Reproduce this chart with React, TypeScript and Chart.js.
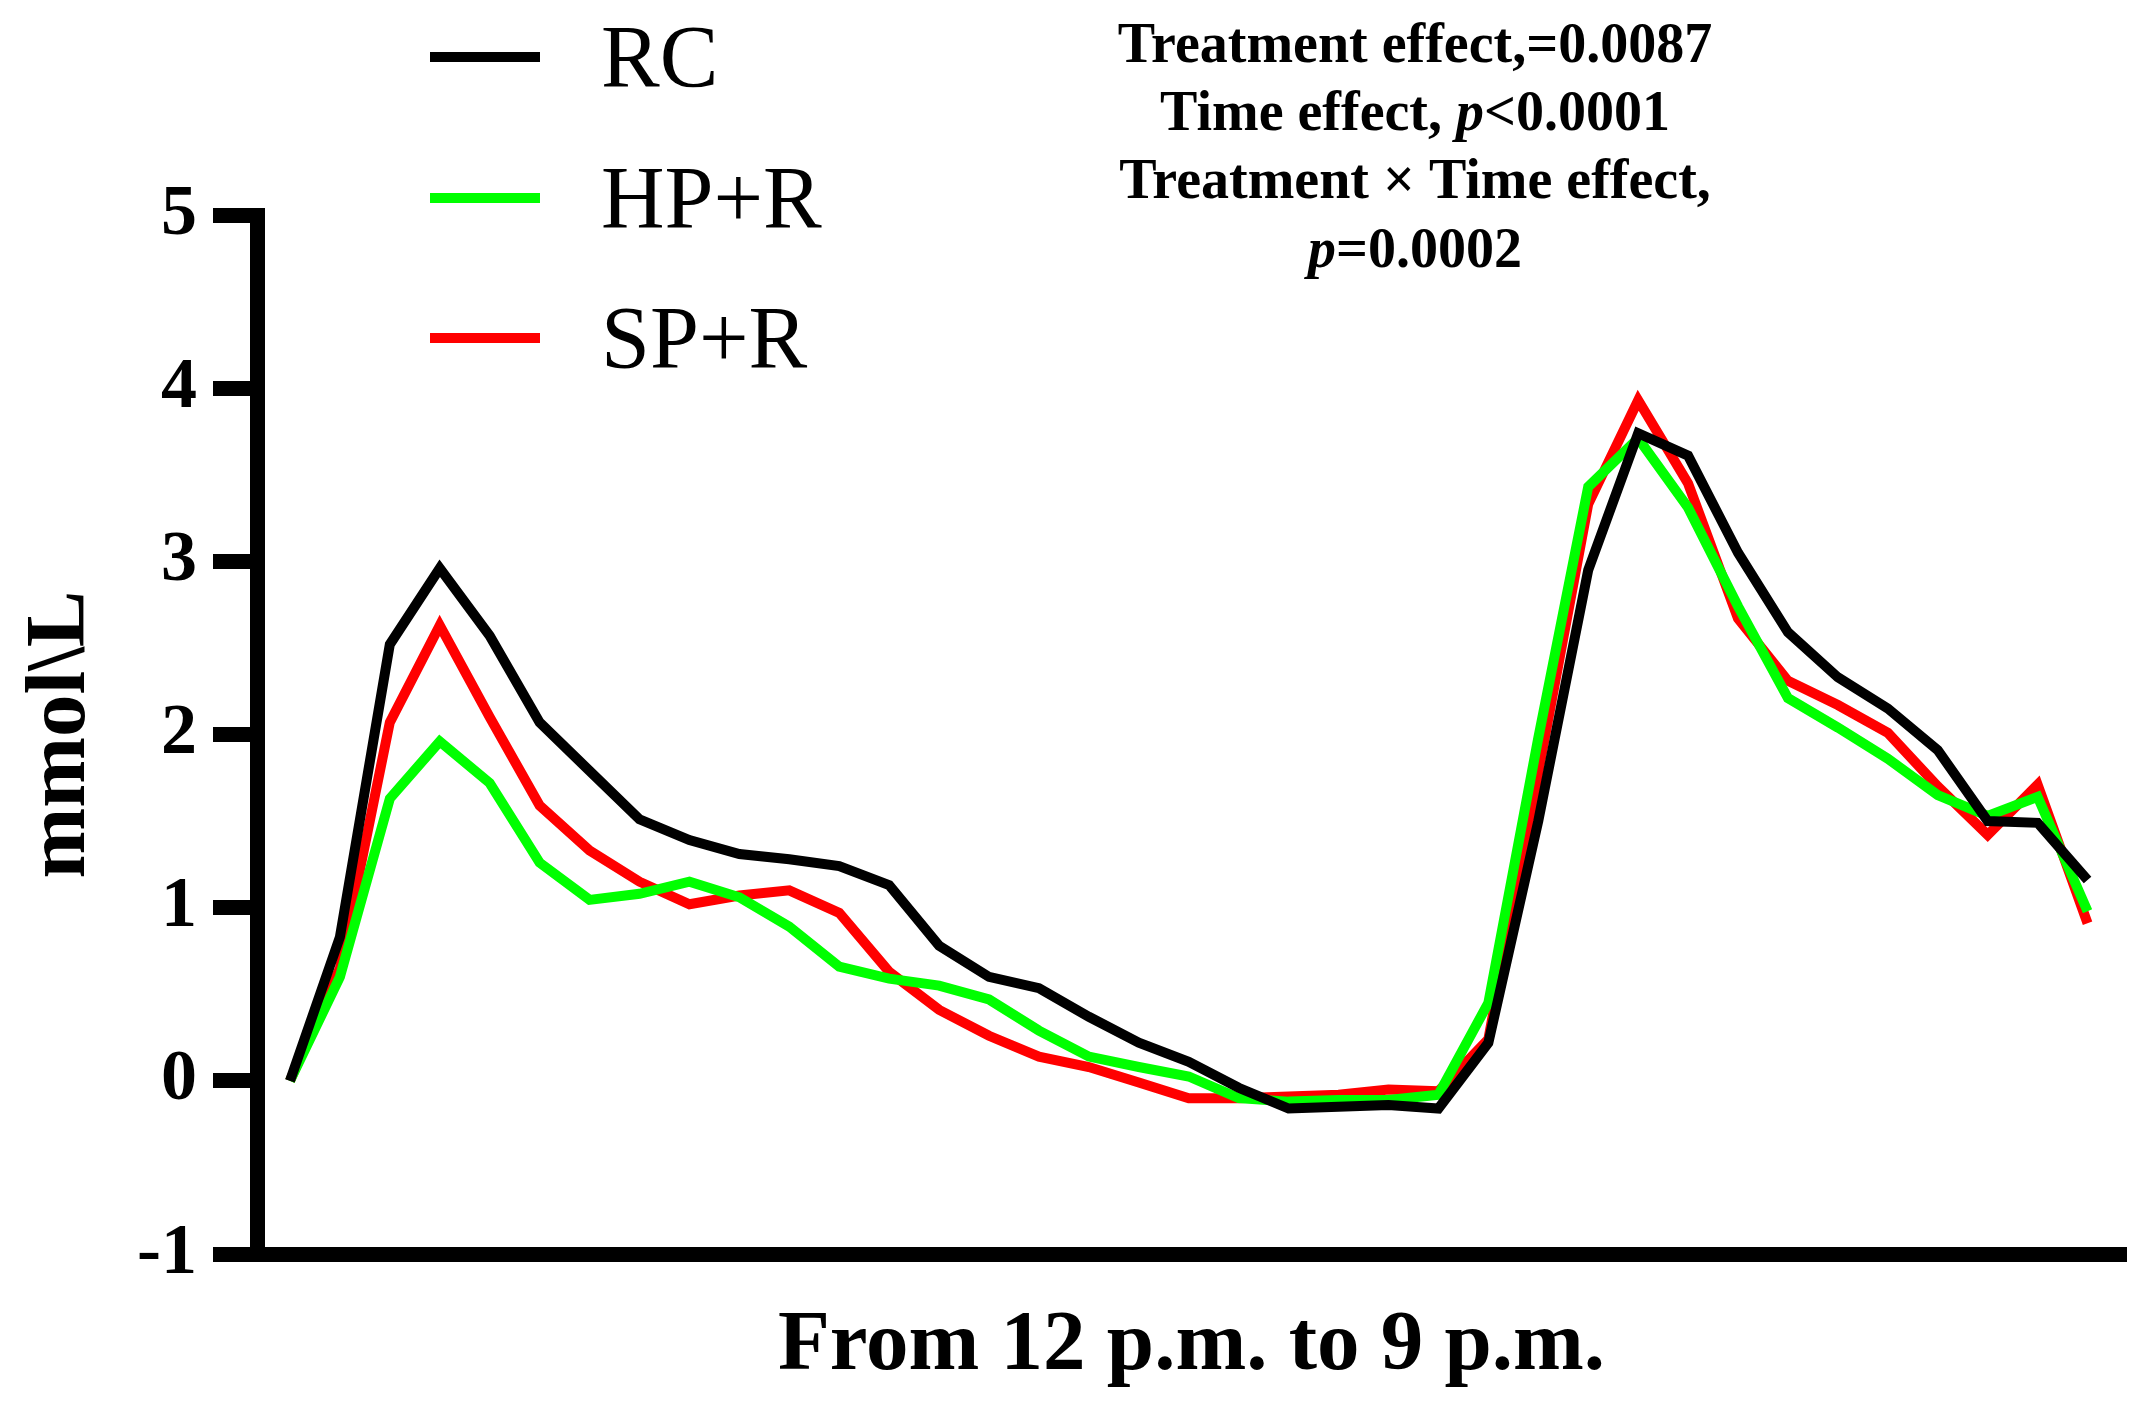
import { useEffect, useRef } from "react";
import { Chart, registerables } from "chart.js";

Chart.register(...registerables);

// sampling times, every 15 min from 12 p.m. to 9 p.m.
const times = [
  "12:00", "12:15", "12:30", "12:45", "13:00", "13:15", "13:30", "13:45",
  "14:00", "14:15", "14:30", "14:45", "15:00", "15:15", "15:30", "15:45",
  "16:00", "16:15", "16:30", "16:45", "17:00", "17:15", "17:30", "17:45",
  "18:00", "18:15", "18:30", "18:45", "19:00", "19:15", "19:30", "19:45",
  "20:00", "20:15", "20:30", "20:45", "21:00",
];

const rc = [
  0, 0.83, 2.52, 2.96, 2.57, 2.07, 1.79, 1.51, 1.39, 1.31, 1.28, 1.24, 1.13,
  0.78, 0.6, 0.535, 0.37, 0.22, 0.11, -0.04, -0.16, -0.15, -0.14, -0.16, 0.22,
  1.5, 2.95, 3.74, 3.61, 3.05, 2.59, 2.33, 2.15, 1.91, 1.5, 1.49, 1.16,
];

const hpR = [
  0, 0.6, 1.63, 1.96, 1.72, 1.26, 1.045, 1.08, 1.15, 1.06, 0.89, 0.66, 0.59,
  0.55, 0.47, 0.29, 0.14, 0.08, 0.025, -0.1, -0.12, -0.11, -0.11, -0.08, 0.45,
  1.98, 3.43, 3.71, 3.31, 2.74, 2.21, 2.04, 1.86, 1.65, 1.53, 1.64, 0.98,
];

const spR = [
  0, 0.65, 2.07, 2.63, 2.1, 1.59, 1.33, 1.15, 1.02, 1.07, 1.1, 0.97, 0.63,
  0.41, 0.26, 0.14, 0.08, -0.01, -0.1, -0.1, -0.09, -0.08, -0.05, -0.06, 0.24,
  1.78, 3.33, 3.93, 3.45, 2.67, 2.31, 2.17, 2.01, 1.7, 1.42, 1.71, 0.91,
];

const seriesNames = ["RC", "HP+R", "SP+R"];
const seriesColors = ["#000000", "#00ff00", "#ff0000"];

const yTicks = [-1, 0, 1, 2, 3, 4, 5];

// stats text, segments marked italic where the original uses italic p
const statLines = [
  [{ text: "Treatment effect,=0.0087", italic: false }],
  [
    { text: "Time effect, ", italic: false },
    { text: "p", italic: true },
    { text: "<0.0001", italic: false },
  ],
  [{ text: "Treatment \u00d7 Time effect,", italic: false }],
  [
    { text: "p", italic: true },
    { text: "=0.0002", italic: false },
  ],
];

const FONT = '"Liberation Serif", "Times New Roman", serif';

const overlayPlugin = {
  id: "overlay",
  afterDraw(chart: any) {
    const { ctx } = chart;
    ctx.save();

    // legend, stacked vertically above the plot
    const legendY = [57, 198, 338];
    chart.data.datasets.forEach((ds: any, i: number) => {
      const y = legendY[i];
      ctx.strokeStyle = ds.borderColor;
      ctx.lineWidth = 10;
      ctx.lineCap = "butt";
      ctx.beginPath();
      ctx.moveTo(430, y);
      ctx.lineTo(540, y);
      ctx.stroke();
      ctx.fillStyle = "#000";
      ctx.font = `88px ${FONT}`;
      ctx.textAlign = "left";
      ctx.textBaseline = "alphabetic";
      ctx.fillText(ds.label, 601, y + 29);
    });

    // stats block, centred lines
    const cx = 1415;
    const baselines = [62, 130, 198, 267];
    statLines.forEach((segs, i) => {
      const fontOf = (s: any) =>
        `${s.italic ? "italic " : ""}bold 56px ${FONT}`;
      let total = 0;
      segs.forEach((s) => {
        ctx.font = fontOf(s);
        total += ctx.measureText(s.text).width;
      });
      let x = cx - total / 2;
      segs.forEach((s) => {
        ctx.font = fontOf(s);
        ctx.textAlign = "left";
        ctx.textBaseline = "alphabetic";
        ctx.fillStyle = "#000";
        ctx.fillText(s.text, x, baselines[i]);
        x += ctx.measureText(s.text).width;
      });
    });

    ctx.restore();
  },
};

const App = () => {
  const canvasRef = useRef<HTMLCanvasElement>(null);

  useEffect(() => {
    if (!canvasRef.current) return;

    const series = [rc, hpR, spR];
    const datasets = series.map((vals, i) => ({
      label: seriesNames[i],
      data: times.map((_, j) => ({ x: j, y: vals[j] })),
      borderColor: seriesColors[i],
      backgroundColor: seriesColors[i],
      borderWidth: 10,
      borderJoinStyle: "miter" as const,
      pointRadius: 0,
      tension: 0,
      fill: false,
    }));

    const chart = new Chart(canvasRef.current, {
      type: "line",
      data: { datasets },
      options: {
        animation: false,
        responsive: true,
        maintainAspectRatio: false,
        layout: { padding: { top: 215, right: 17, bottom: 0, left: 0 } },
        plugins: {
          legend: { display: false },
          tooltip: { enabled: false },
        },
        scales: {
          x: {
            type: "linear",
            min: -0.66,
            max: times.length - 1 + 0.77,
            afterFit: (s: any) => {
              s.height = 172;
            },
            grid: { display: false },
            ticks: { display: false },
            border: { display: true, color: "#000", width: 15 },
            title: {
              display: true,
              text: "From 12 p.m. to 9 p.m.",
              color: "#000",
              font: { family: FONT, size: 85, weight: "bold" },
              padding: { top: 0, bottom: 28 },
            },
          },
          y: {
            min: yTicks[0],
            max: yTicks[yTicks.length - 1],
            afterFit: (s: any) => {
              s.width = 257;
            },
            afterBuildTicks: (s: any) => {
              s.ticks = yTicks.map((v) => ({ value: v }));
            },
            ticks: {
              color: "#000",
              padding: 16,
              font: { family: FONT, size: 72, weight: "bold" },
            },
            grid: {
              display: true,
              drawOnChartArea: false,
              drawTicks: true,
              tickLength: 44,
              tickWidth: 15,
              lineWidth: 15,
              color: "#000",
            },
            border: { display: true, color: "#000", width: 15 },
            title: {
              display: true,
              text: "mmol\\L",
              color: "#000",
              font: { family: FONT, size: 85, weight: "bold" },
              padding: { top: 11, bottom: 0 },
            },
          },
        },
      },
      plugins: [overlayPlugin],
    });

    return () => {
      chart.destroy();
    };
  }, []);

  return (
    <div
      style={{
        position: "fixed",
        left: 0,
        top: 0,
        width: "2143px",
        height: "1426px",
        background: "#fff",
      }}
    >
      <canvas ref={canvasRef} />
    </div>
  );
};

export default App;
